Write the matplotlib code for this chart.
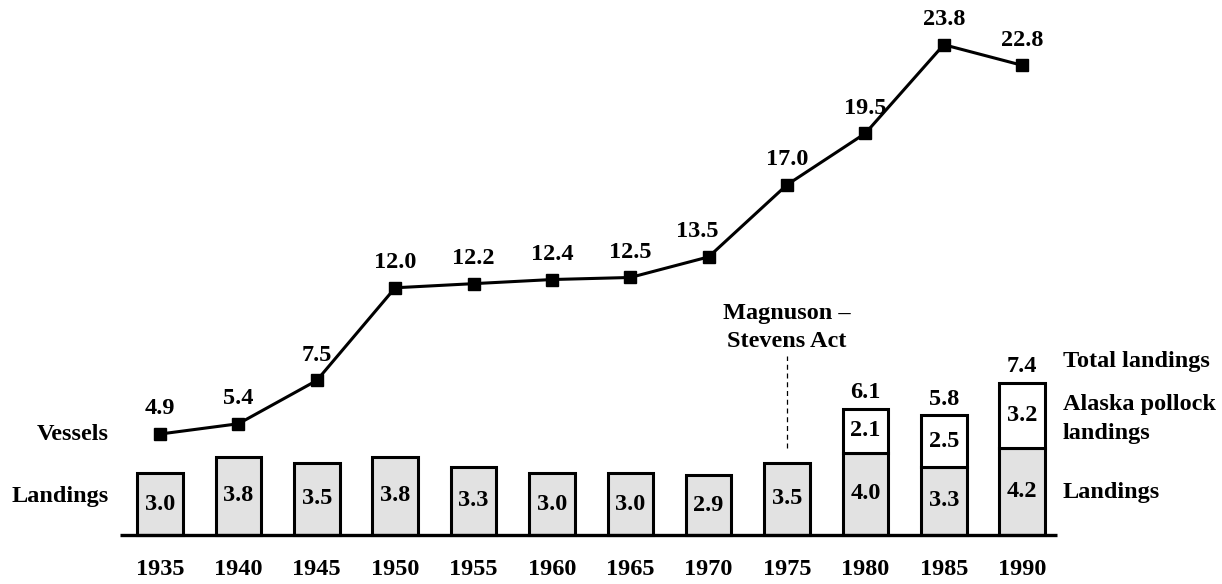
import numpy as np
import matplotlib.pyplot as plt

plt.rcParams['font.family'] = ['Liberation Serif', 'DejaVu Serif']
plt.rcParams['font.weight'] = 'bold'

years = ['1935', '1940', '1945', '1950', '1955', '1960',
         '1965', '1970', '1975', '1980', '1985', '1990']
vessels = [4.9, 5.4, 7.5, 12.0, 12.2, 12.4, 12.5, 13.5, 17.0, 19.5, 23.8, 22.8]
landings = [3.0, 3.8, 3.5, 3.8, 3.3, 3.0, 3.0, 2.9, 3.5, 4.0, 3.3, 4.2]
pollock = [0, 0, 0, 0, 0, 0, 0, 0, 0, 2.1, 2.5, 3.2]
totals = [None] * 9 + [6.1, 5.8, 7.4]

x = np.arange(len(years))
fs = 17.5

fig = plt.figure(figsize=(12.22, 5.84), dpi=100)
ax = fig.add_axes([0, 0, 1, 1])
ax.set_xlim(-2.042, 13.55)
ax.set_ylim(-2.38, 25.97)
ax.axis('off')

# bars
ax.bar(x, landings, width=0.58, color='#e2e2e2', edgecolor='black', linewidth=2.2, zorder=2)
has_p = [p > 0 for p in pollock]
ax.bar(x[has_p], np.array(pollock)[has_p], bottom=np.array(landings)[has_p], width=0.58,
       color='white', edgecolor='black', linewidth=2.2, zorder=2)
for i in x:
    ax.text(i, landings[i] / 2, '%.1f' % landings[i], ha='center', va='center', fontsize=fs, zorder=3)
    if pollock[i] > 0:
        ax.text(i, landings[i] + pollock[i] / 2, '%.1f' % pollock[i], ha='center', va='center',
                fontsize=fs, zorder=3)
    if totals[i] is not None:
        ax.text(i, landings[i] + pollock[i] + 0.8, '%.1f' % totals[i], ha='center', va='center',
                fontsize=fs)

# baseline
ax.plot([-0.51, 11.45], [0, 0], color='black', linewidth=2.4, solid_capstyle='butt', zorder=4)

# vessels line
ax.plot(x, vessels, color='black', linewidth=2.2, marker='s', markersize=9, zorder=5)
for i in x:
    dx = -0.15 if years[i] == '1970' else 0
    ax.text(i + dx, vessels[i] + 1.22, '%.1f' % vessels[i], ha='center', va='center', fontsize=fs)

# year labels
for i in x:
    ax.text(i, -1.68, years[i], ha='center', va='center', fontsize=fs)

# left labels
ax.text(-0.66, 4.9, 'Vessels', ha='right', va='center', fontsize=fs)
ax.text(-0.66, 1.85, 'Landings', ha='right', va='center', fontsize=fs)

# right labels
ax.text(11.52, 8.4, 'Total landings', ha='left', va='center', fontsize=fs)
ax.text(11.52, 6.35, 'Alaska pollock', ha='left', va='center', fontsize=fs)
ax.text(11.52, 4.95, 'landings', ha='left', va='center', fontsize=fs)
ax.text(11.52, 2.05, 'Landings', ha='left', va='center', fontsize=fs)

# Magnuson-Stevens Act annotation
ax.plot([8, 8], [4.2, 8.7], color='black', linewidth=0.9, linestyle=(0, (4, 3)))
ax.text(8, 10.75, 'Magnuson \u2013', ha='center', va='center', fontsize=fs)
ax.text(8, 9.4, 'Stevens Act', ha='center', va='center', fontsize=fs)

fig.savefig('out.png', dpi=100)
